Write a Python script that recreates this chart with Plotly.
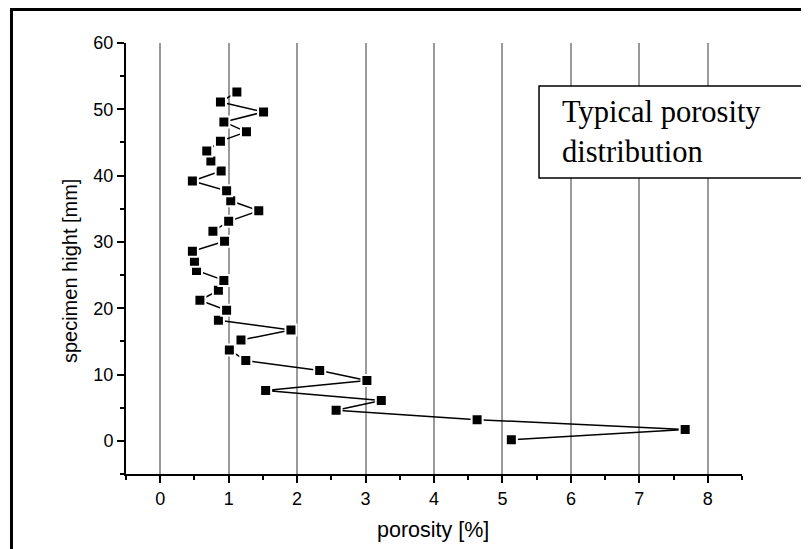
import plotly.graph_objects as go

# specimen height [mm] (bottom to top) and porosity [%]
height_mm = [0.15, 1.7, 3.2, 4.6, 6.1, 7.6, 9.1, 10.6, 12.1, 13.7, 15.2, 16.7,
             18.2, 19.7, 21.2, 22.7, 24.2, 25.7, 27.1, 28.6, 30.1, 31.6, 33.1, 34.7,
             36.2, 37.7, 39.2, 40.7, 42.2, 43.7, 45.2, 46.6, 48.1, 49.6, 51.1, 52.6]
porosity_pct = [5.13, 7.67, 4.63, 2.57, 3.23, 1.54, 3.02, 2.33, 1.25, 1.01, 1.18, 1.91,
                0.85, 0.97, 0.58, 0.85, 0.93, 0.53, 0.50, 0.47, 0.94, 0.77, 1.00, 1.44,
                1.03, 0.97, 0.47, 0.89, 0.74, 0.68, 0.88, 1.26, 0.93, 1.51, 0.88, 1.12]

x_ticks = [0, 1, 2, 3, 4, 5, 6, 7, 8]
y_ticks = [0, 10, 20, 30, 40, 50, 60]

fig = go.Figure()
fig.add_trace(go.Scatter(
    x=porosity_pct, y=height_mm, mode="lines+markers",
    line=dict(color="black", width=1.5),
    marker=dict(symbol="square", size=11, color="black",
                line=dict(color="white", width=2)),
    showlegend=False, cliponaxis=False,
))

axis_font = dict(family="Liberation Sans, Arial, sans-serif", size=18, color="black")

fig.update_layout(
    width=809, height=549,
    margin=dict(l=118, r=75, t=35, b=83),
    paper_bgcolor="white", plot_bgcolor="white",
    font=axis_font,
    xaxis=dict(
        range=[-0.5, 8.5], tickvals=x_ticks, ticktext=[str(v) for v in x_ticks],
        showgrid=True, gridcolor="#9a9a9a", gridwidth=1.5, zeroline=False,
        showline=True, linecolor="black", linewidth=2, mirror=False,
        ticks="outside", ticklen=7, tickwidth=1.5, tickcolor="black",
        minor=dict(dtick=0.5, tick0=0, ticks="outside", ticklen=4,
                   tickwidth=1.5, tickcolor="black", showgrid=False),
        tickfont=axis_font,
    ),
    yaxis=dict(
        range=[-5, 60], tickvals=y_ticks, ticktext=[str(v) for v in y_ticks],
        showgrid=False, zeroline=False,
        showline=True, linecolor="black", linewidth=2, mirror=False,
        ticks="outside", ticklen=7, tickwidth=1.5, tickcolor="black",
        minor=dict(dtick=5, tick0=0, ticks="outside", ticklen=4,
                   tickwidth=1.5, tickcolor="black", showgrid=False),
        tickfont=axis_font,
    ),
)

# axis titles
fig.add_annotation(text="porosity [%]", xref="paper", yref="paper",
                   x=0.499, y=-0.13, showarrow=False, xanchor="center", yanchor="middle",
                   font=dict(family="Liberation Sans, Arial, sans-serif", size=21.5, color="black"))
fig.add_annotation(text="specimen hight [mm]", xref="paper", yref="paper",
                   x=-0.091, y=0.473, showarrow=False, textangle=-90,
                   xanchor="center", yanchor="middle",
                   font=dict(family="Liberation Sans, Arial, sans-serif", size=20, color="black"))

# label box
fig.add_shape(type="rect", xref="paper", yref="paper",
              x0=0.6705, x1=1.25, y0=0.6868, y1=0.9002,
              line=dict(color="black", width=1.5), fillcolor="white", layer="above")
fig.add_annotation(text="Typical porosity<br>distribution", xref="paper", yref="paper",
                   x=0.704, y=0.7935, showarrow=False, xanchor="left", yanchor="middle",
                   align="left",
                   font=dict(family="Liberation Serif, Times New Roman, serif", size=30.5, color="black"))

# outer frame
fig.add_shape(type="rect", xref="paper", yref="paper",
              x0=-0.1859, x1=1.25, y0=-0.3, y1=1.0777,
              line=dict(color="black", width=3), fillcolor="rgba(0,0,0,0)", layer="above")

fig.write_html("out.html")
